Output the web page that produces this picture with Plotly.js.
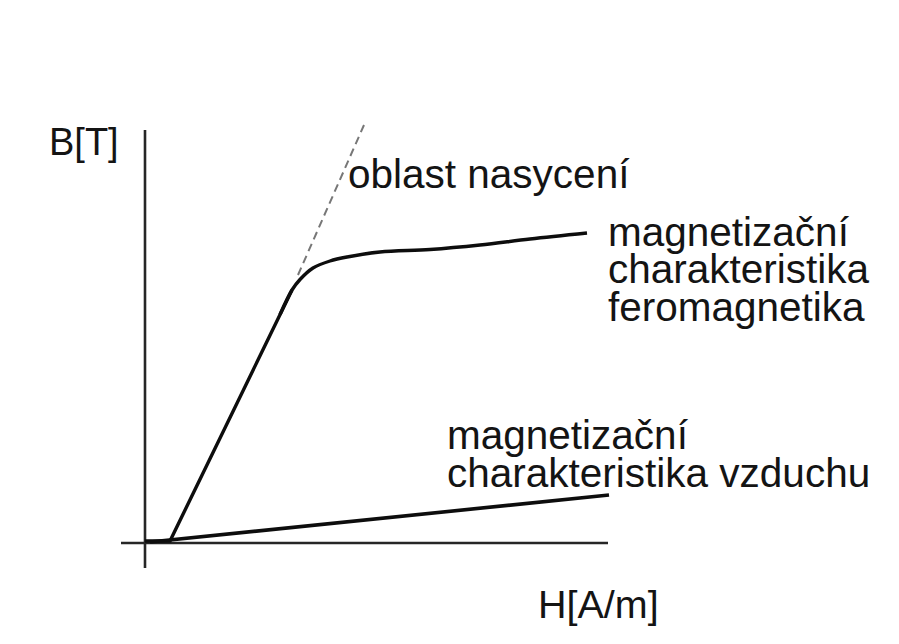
<!DOCTYPE html>
<html>
<head>
<meta charset="utf-8">
<script src="https://cdn.plot.ly/plotly-3.0.1.min.js"></script>
<style>html,body{margin:0;padding:0;background:#fff;}#chart{width:899px;height:644px;}</style>
</head>
<body>
<div id="chart"></div>
<script>
// Magnetization curve (ferromagnetic), arbitrary units
// straight (linear) part
const ferroLinH = [0, 0.5, 2.94];
const ferroLinB = [0.04, 0.04, 5.06];
// knee and saturation part
const ferroKneeH = [2.70, 2.94, 3.10, 3.36, 3.70, 4.04, 4.70, 5.70, 6.70, 7.70, 8.84];
const ferroKneeB = [4.57, 5.06, 5.27, 5.50, 5.64, 5.72, 5.82, 5.87, 5.96, 6.08, 6.20];
// Saturation tangent (dashed)
const satH = [3.06, 4.38];
const satB = [5.36, 8.36];
// Air magnetization line
const airH = [0.1, 9.28];
const airB = [0.02, 0.96];
// Axis lines
const yAxisH = [0, 0];
const yAxisB = [-0.5, 8.26];
const xAxisH = [-0.48, 9.26];
const xAxisB = [0, 0];
// Labels
const labelTexts = ["B[T]", "oblast nasycení", "magnetizační", "charakteristika", "feromagnetika",
                    "magnetizační", "charakteristika vzduchu", "H[A/m]"];
const labelH = [-1.92, 4.06, 9.26, 9.26, 9.26, 6.04, 6.04, 7.86];
const labelB = [8.02, 7.38, 6.22, 5.48, 4.72, 2.16, 1.40, -1.22];

const axisStyle = {color: '#262626', width: 2.6};
const curveColor = '#0d0d0d';
const traces = [
  {x: yAxisH, y: yAxisB, mode: 'lines', line: axisStyle, hoverinfo: 'skip'},
  {x: xAxisH, y: xAxisB, mode: 'lines', line: axisStyle, hoverinfo: 'skip'},
  {x: airH, y: airB, mode: 'lines', line: {color: curveColor, width: 3.6}, hoverinfo: 'skip'},
  {x: ferroLinH, y: ferroLinB, mode: 'lines', line: {color: curveColor, width: 3.4}, hoverinfo: 'skip'},
  {x: ferroKneeH, y: ferroKneeB, mode: 'lines', line: {color: curveColor, width: 3.4, shape: 'spline', smoothing: 1}, hoverinfo: 'skip'},
  {x: satH, y: satB, mode: 'lines', line: {color: '#777777', width: 2, dash: '8px,5px'}, hoverinfo: 'skip'}
];

function sizeFor(t) {
  if (t === 'B[T]') return 38;
  if (t === 'H[A/m]') return 39.5;
  return 40.5;
}

const annotations = labelTexts.map((t, i) => ({
  x: labelH[i], y: labelB[i], xref: 'x', yref: 'y', text: t, showarrow: false,
  xanchor: 'left', yanchor: 'middle', borderpad: 0, borderwidth: 0,
  font: {family: '"Liberation Sans", Arial, sans-serif', size: sizeFor(t), color: '#141414'}
}));

const layout = {
  width: 899, height: 644,
  margin: {l: 0, r: 0, t: 0, b: 0},
  paper_bgcolor: '#ffffff', plot_bgcolor: '#ffffff',
  showlegend: false,
  xaxis: {range: [-2.9, 15.08], visible: false, fixedrange: true},
  yaxis: {range: [-2.02, 10.86], visible: false, fixedrange: true},
  annotations: annotations
};

Plotly.newPlot('chart', traces, layout, {displayModeBar: false, staticPlot: true});
</script>
</body>
</html>
